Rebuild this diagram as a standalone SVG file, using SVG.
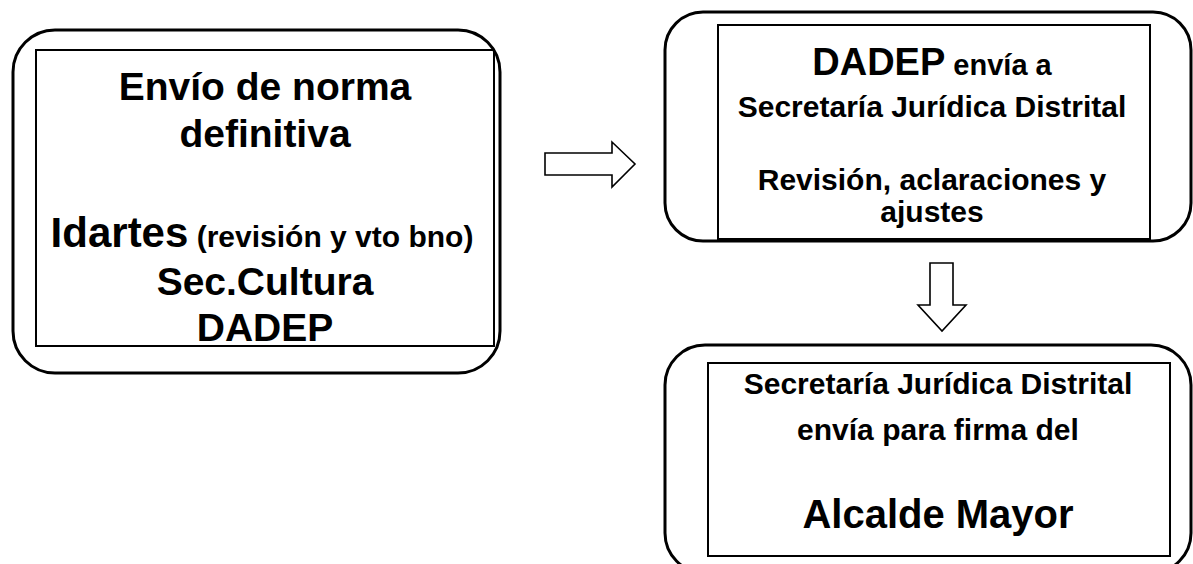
<svg xmlns="http://www.w3.org/2000/svg" width="1193" height="564" viewBox="0 0 1193 564">
<style>
.outer{fill:none;stroke:#000;stroke-width:3}
.inner{fill:none;stroke:#000;stroke-width:2}
text{font-family:"Liberation Sans",Arial,sans-serif;font-weight:bold;fill:#000;text-anchor:middle}
.arrow{fill:#fff;stroke:#000;stroke-width:1.6;stroke-linejoin:miter}
</style>
<rect width="1193" height="564" fill="#fff"/>
<g id="node-envio">
<rect class="outer" x="13" y="30" width="487" height="343" rx="42"/>
<rect class="inner" x="36" y="50" width="458" height="296"/>
<text x="265" y="100" font-size="39">Envío de norma</text>
<text x="265" y="147" font-size="39">definitiva</text>
<text x="262" y="247"><tspan font-size="42">Idartes</tspan><tspan font-size="30"> (revisión y vto bno)</tspan></text>
<text x="265" y="295" font-size="39">Sec.Cultura</text>
<text x="265" y="341" font-size="39">DADEP</text>
</g>
<g id="node-dadep">
<rect class="outer" x="665" y="12" width="526" height="229" rx="38"/>
<rect class="inner" x="718" y="25" width="432" height="214"/>
<text x="932" y="75"><tspan font-size="38">DADEP</tspan><tspan font-size="29"> envía a</tspan></text>
<text x="932" y="117" font-size="30">Secretaría Jurídica Distrital</text>
<text x="932" y="190" font-size="30">Revisión, aclaraciones y</text>
<text x="932" y="222" font-size="30">ajustes</text>
</g>
<g id="node-alcalde">
<rect class="outer" x="665" y="345" width="526" height="228" rx="40"/>
<rect class="inner" x="708" y="363" width="462" height="193"/>
<text x="938" y="394" font-size="30">Secretaría Jurídica Distrital</text>
<text x="938" y="440" font-size="30">envía para firma del</text>
<text x="938" y="528" font-size="40">Alcalde Mayor</text>
</g>
<g id="connectors">
<path class="arrow" d="M545,153 L612,153 L612,142 L635,164 L612,187 L612,175 L545,175 Z"/>
<path class="arrow" d="M930,263 L953,263 L953,305 L966,305 L942,331 L918,305 L930,305 Z"/>
</g>
</svg>
